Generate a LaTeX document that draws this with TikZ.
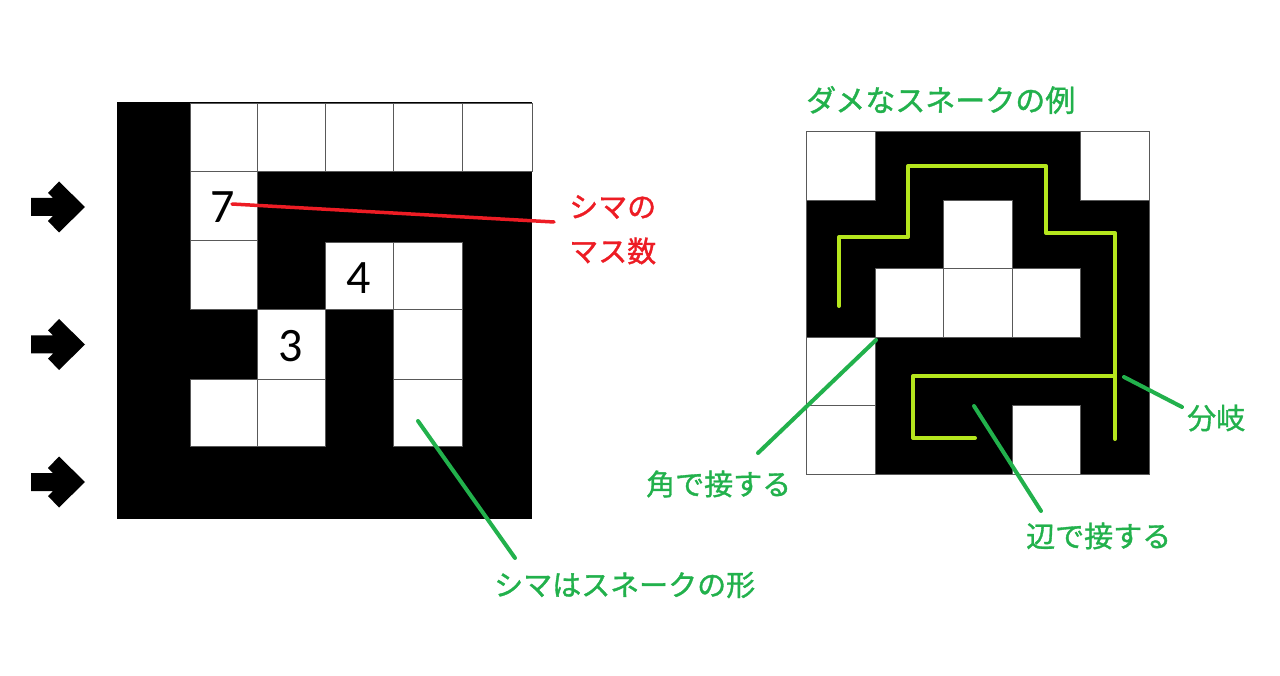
\documentclass[tikz,border=0pt]{standalone}
\usepackage{fontspec}
\newfontfamily\jp[FakeBold=1.2]{Noto Sans CJK JP}
\newfontfamily\digitfont{Carlito}
\definecolor{pgreen}{RGB}{34,177,76}
\definecolor{pred}{RGB}{237,28,36}
\definecolor{plime}{RGB}{181,230,29}
\begin{document}
\begin{tikzpicture}[x=1pt,y=-1pt,
  cellw/.style={fill=white,draw=black!65,line width=1pt},
  lbl/.style={font=\jp\fontsize{29}{29}\selectfont,inner sep=0,anchor=west},
  num/.style={font=\digitfont\fontsize{48}{48}\selectfont,inner sep=0},
  gline/.style={draw=pgreen,line width=4pt,line cap=round},
  rline/.style={draw=pred,line width=3.5pt,line cap=round},
  snake/.style={draw=plime,line width=4pt,line cap=round,line join=round},
  arrowshape/.style={fill=black}]
\useasboundingbox[fill=white] (0,0) rectangle (1280,676);

% ---- arrows ----
\foreach \cy in {207,344.5,482}{
  \fill (31,\cy-9) -- (53,\cy-9) -- (48,\cy-14) -- (59,\cy-25.5) -- (85,\cy) -- (59,\cy+25.5) -- (48,\cy+14) -- (53,\cy+9) -- (31,\cy+9) -- cycle;
}

% ---- left grid ----
\fill (117,102) rectangle (532,519);
\foreach \xa/\ya/\xb/\yb in {
  190/104/257/172, 257/104/325/172, 325/104/393/172, 393/104/462/172, 462/104/532/172,
  190/172/257/241,
  190/241/257/310, 325/243/393/310, 393/243/462/310,
  257/310/325/379, 393/310/462/379,
  190/379/257/446, 257/379/325/446, 393/379/462/446}
  \draw[cellw] (\xa,\ya) rectangle (\xb,\yb);
\node[num] (n7) at (223,207) {7};
\node[num] (n4) at (359,278) {4};
\node[num] (n3) at (291,346) {3};

% ---- right grid ----
\fill (806.7,131.7) rectangle (1149,474);
\foreach \xa/\ya/\xb/\yb in {
  806.7/131.7/875.2/200.2, 1080.6/131.7/1149/200.2,
  943.7/200.2/1012.2/268.7,
  875.2/268.7/943.7/337.2, 943.7/268.7/1012.2/337.2, 1012.2/268.7/1080.6/337.2,
  806.7/337.2/875.2/405.6,
  806.7/405.6/875.2/474, 1012.2/405.6/1080.6/474}
  \draw[cellw] (\xa,\ya) rectangle (\xb,\yb);
\draw[black!65,line width=1pt] (806.7,131.7) rectangle (1149,474);

% snake path
\draw[snake] (839,306) -- (839,237) -- (908,237) -- (908,166) -- (1046,166) -- (1046,233) -- (1115,233) -- (1115,439);
\draw[snake] (1115,376) -- (913,376) -- (913,438) -- (975,438);

% ---- labels ----
\node[lbl,text=pred] (shimano) at (569,207) {シマの};
\node[lbl,text=pred] (masusu) at (569,251) {マス数};
\node[lbl,text=pgreen] (katachi) at (494,585) {シマはスネークの形};
\node[lbl,text=pgreen,font=\jp\fontsize{30}{30}\selectfont] (title) at (806,100) {ダメなスネークの例};
\node[lbl,text=pgreen] (kado) at (646,484) {角で接する};
\node[lbl,text=pgreen] (bunki) at (1187,418) {分岐};
\node[lbl,text=pgreen] (hen) at (1026,536) {辺で接する};

% ---- connectors ----
\coordinate (r1) at (232,204);
\coordinate (r2) at (554,222);
\draw[rline] (r1) -- (r2);
\coordinate (g1a) at (418,421);
\coordinate (g1b) at (515,558);
\draw[gline] (g1a) -- (g1b);
\coordinate (g2a) at (876,340);
\coordinate (g2b) at (758,453);
\draw[gline] (g2a) -- (g2b);
\coordinate (g3a) at (1124,377);
\coordinate (g3b) at (1182,407);
\draw[gline] (g3a) -- (g3b);
\coordinate (g4a) at (974,406);
\coordinate (g4b) at (1041,511);
\draw[gline] (g4a) -- (g4b);
\end{tikzpicture}
\end{document}
